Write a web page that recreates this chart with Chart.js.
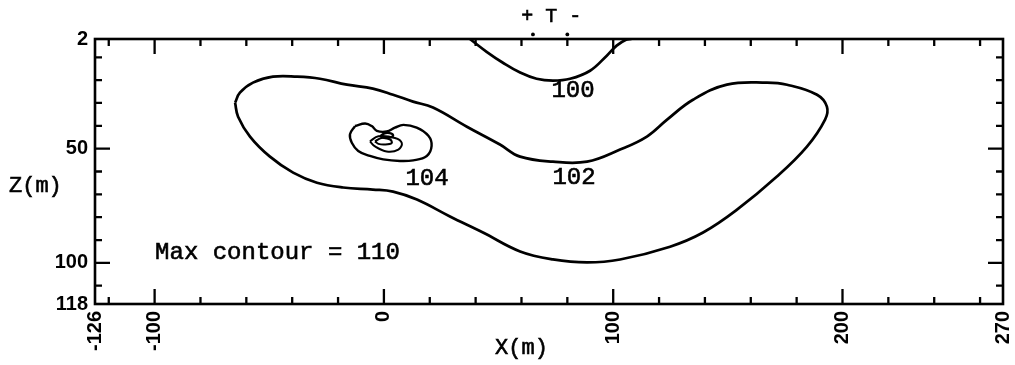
<!DOCTYPE html>
<html>
<head>
<meta charset="utf-8">
<script src="https://cdn.jsdelivr.net/npm/chart.js@4.4.1/dist/chart.umd.min.js"></script>
<style>
  html, body { margin: 0; padding: 0; background: #fff; }
  #wrap { width: 1015px; height: 365px; }
</style>
</head>
<body>
<div id="wrap"><canvas id="c" width="1015" height="365"></canvas></div>
<script>
// Contour lines of the field in the vertical section, points as [x (m), z (m)]
const contour100 = [[37.5,2],[44.8,7.6],[51.9,12.4],[59.4,16.7],[66.6,19.4],[73.7,20.2],[81.2,19.4],[89.9,15.9],[97.2,9.3],[101.5,4.9],[105.6,2.3],[108,2]];
const contour102 = [[-64.9,29.9],[-62.8,25.5],[-57.1,21.1],[-48.4,18.5],[-37.9,18.5],[-27.9,19.4],[-16.1,22.0],[-4.8,23.7],[4.0,26.4],[12.7,29.4],[21.4,32.0],[36.2,40.4],[50.6,48.2],[59.4,53.5],[73.7,55.7],[88.6,55.7],[103.0,50.4],[114.7,44.7],[123.5,37.3],[134.8,28.6],[149.6,22.0],[167.1,21.1],[175.8,22.0],[188.9,26.4],[193.2,31.6],[192.4,37.3],[184.5,49.1],[171.4,62.2],[154.0,76.7],[139.2,86.7],[124.8,92.9],[103.0,98.5],[88.6,99.8],[73.7,98.5],[59.4,95.0],[43.2,86.7],[28.8,79.7],[14.4,72.3],[4.0,68.8],[-4.8,67.9],[-17.8,67.0],[-29.2,64.9],[-39.6,60.5],[-49.7,53.5],[-58.4,44.7],[-63.6,36.0],[-64.9,29.9]];
const contour104 = [[-12.6,40.1],[-8.2,39.0],[-5.3,40.1],[-3.1,42.2],[1.2,42.5],[4.8,40.8],[8.5,39.6],[14.3,40.8],[19.4,44.4],[20.8,48.8],[18.7,53.2],[12.8,55.1],[7.0,55.4],[-0.3,54.7],[-6.1,53.2],[-11.2,51.0],[-14.0,47.4],[-14.8,43.7],[-12.6,40.1]];
const contour106 = [[-6.1,46.8],[-2.4,44.6],[4.8,45.3],[7.8,47.5],[6.3,50.4],[1.2,51.2],[-3.9,49.0],[-6.1,46.8]];
const contour108 = [[-3.9,46.8],[-1.0,45.3],[2.7,46.0],[3.4,47.5],[0.5,48.2],[-2.4,47.9],[-3.9,46.8]];
const contour110 = [[-1.5,44.6],[0,43.4],[2.5,43.2],[4,44.2],[2.5,45.2],[0,45.2],[-1.5,44.6]];

// Source / sink marks just above the surface
const markerX = [65, 80];
const markerZ = [0, 0];

// Axis ranges and labelled ticks
const xRange = [-126, 270];
const zRange = [2, 118];
const xTickLabels = [-126, -100, 0, 100, 200, 270];
const zTickLabels = [2, 50, 100, 118];
const xTickMarks = [-120,-100,-80,-60,-40,-20,0,20,40,60,80,100,120,140,160,180,200,220,240,260];
const xMajorTicks = [-100, 0, 100, 200];
const zTickMarks = [10,20,30,40,50,60,70,80,90,100,110];
const zMajorTicks = [50, 100];

// Contour level annotations, anchored in data coordinates
const levelLabels = [
  { text: '100', x: 82.5, z: 24.4 },
  { text: '102', x: 82.9, z: 62.7 },
  { text: '104', x: 18.8, z: 63.0 }
];

const toPts = arr => arr.map(p => ({ x: p[0], y: p[1] }));
const lineSet = (arr, w) => ({
  data: toPts(arr), showLine: true, borderColor: '#000', borderWidth: w,
  pointRadius: 0, tension: 0.4, fill: false
});

const MONO = '"Liberation Mono", "DejaVu Sans Mono", monospace';
const SANS = '"Liberation Sans", Arial, sans-serif';

// Filled text with a thin outline so the typewriter glyphs read heavier
function heavyText(ctx, text, px, py) {
  ctx.fillText(text, px, py);
  ctx.strokeText(text, px, py);
}

// Frame with inward tick marks on all four sides, plus annotations
const frameTicks = {
  id: 'frameTicks',
  afterDatasetsDraw(chart) {
    const { ctx, chartArea: a, scales: { x, y } } = chart;
    ctx.save();
    ctx.strokeStyle = '#000';
    ctx.lineWidth = 2.6;
    ctx.strokeRect(a.left, a.top, a.right - a.left, a.bottom - a.top);
    ctx.lineWidth = 2.3;
    ctx.beginPath();
    xTickMarks.forEach(v => {
      const px = x.getPixelForValue(v);
      const len = xMajorTicks.includes(v) ? 15 : 7;
      ctx.moveTo(px, a.bottom); ctx.lineTo(px, a.bottom - len);
      ctx.moveTo(px, a.top); ctx.lineTo(px, a.top + len);
    });
    zTickMarks.forEach(v => {
      const py = y.getPixelForValue(v);
      const len = zMajorTicks.includes(v) ? 15 : 7;
      ctx.moveTo(a.left, py); ctx.lineTo(a.left + len, py);
      ctx.moveTo(a.right, py); ctx.lineTo(a.right - len, py);
    });
    ctx.stroke();
    // marks above the top edge
    ctx.fillStyle = '#000';
    markerX.forEach((v, i) => {
      ctx.beginPath();
      ctx.arc(x.getPixelForValue(v), y.getPixelForValue(markerZ[i]), 1.9, 0, Math.PI * 2);
      ctx.fill();
    });
    ctx.restore();
  },
  afterDraw(chart) {
    const { ctx, scales: { x, y } } = chart;
    ctx.save();
    ctx.fillStyle = '#000';
    ctx.strokeStyle = '#000';
    ctx.lineWidth = 0.6;
    ctx.textBaseline = 'middle';
    ctx.font = '24px ' + MONO;
    ctx.textAlign = 'center';
    levelLabels.forEach(l => heavyText(ctx, l.text, x.getPixelForValue(l.x), y.getPixelForValue(l.z)));
    ctx.textAlign = 'left';
    heavyText(ctx, 'Max contour = 110', x.getPixelForValue(-99.8), y.getPixelForValue(95.5));
    ctx.font = '22px ' + MONO;
    heavyText(ctx, 'Z(m)', 9, y.getPixelForValue(66.6));
    ctx.textAlign = 'center';
    heavyText(ctx, 'X(m)', x.getPixelForValue(60), 348);
    ctx.font = '20px ' + MONO;
    heavyText(ctx, '+ T -', x.getPixelForValue(73), 17);
    ctx.restore();
  }
};

new Chart(document.getElementById('c'), {
  type: 'scatter',
  data: {
    datasets: [
      lineSet(contour100, 2.7),
      lineSet(contour102, 2.7),
      lineSet(contour104, 2.4),
      lineSet(contour106, 2.0),
      lineSet(contour108, 2.0),
      lineSet(contour110, 2.4)
    ]
  },
  options: {
    responsive: false,
    animation: false,
    layout: { padding: { top: 39, right: 12, left: 0, bottom: 0 } },
    plugins: { legend: { display: false }, tooltip: { enabled: false } },
    scales: {
      x: {
        type: 'linear', position: 'bottom',
        min: xRange[0], max: xRange[1],
        grid: { display: false, drawTicks: false },
        border: { display: false },
        afterBuildTicks: s => { s.ticks = xTickLabels.map(v => ({ value: v })); },
        afterFit: s => { s.height = 61; s.paddingLeft = 0; s.paddingRight = 0; },
        ticks: {
          autoSkip: false, minRotation: 90, maxRotation: 90, padding: 7,
          color: '#000', font: { family: SANS, size: 20, weight: 'bold' }
        }
      },
      y: {
        type: 'linear', position: 'left', reverse: true,
        min: zRange[0], max: zRange[1],
        grid: { display: false, drawTicks: false },
        border: { display: false },
        afterBuildTicks: s => { s.ticks = zTickLabels.map(v => ({ value: v })); },
        afterFit: s => { s.width = 95; s.paddingTop = 0; s.paddingBottom = 0; },
        ticks: {
          autoSkip: false, padding: 7,
          color: '#000', font: { family: SANS, size: 20, weight: 'bold' }
        }
      }
    }
  },
  plugins: [frameTicks]
});
</script>
</body>
</html>
